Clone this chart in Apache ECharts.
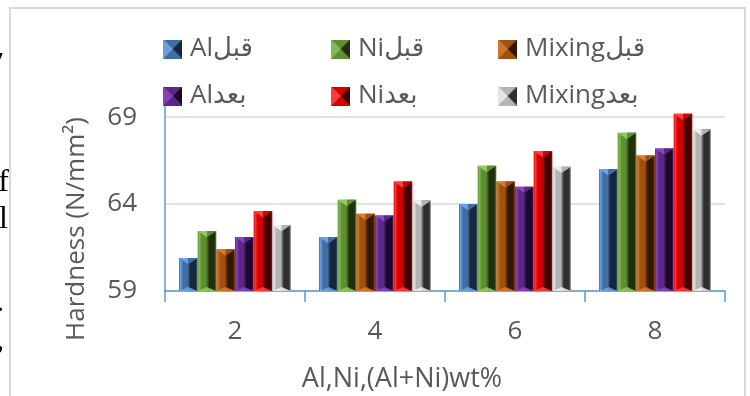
<!DOCTYPE html>
<html>
<head>
<meta charset="utf-8">
<script src="https://cdn.jsdelivr.net/npm/echarts@6/dist/echarts.min.js"></script>
<style>
  html, body { margin: 0; padding: 0; background: #ffffff; }
  #chart { width: 750px; height: 396px; }
</style>
</head>
<body>
<div id="chart"></div>
<script>
// Alloy additions (wt%) on the category axis
const categories = ['2', '4', '6', '8'];

// Series names: "before" (قبل) and "after" (بعد) for Al, Ni and mixed additions
const seriesNames = ['Alقبل', 'Niقبل', 'Mixingقبل', 'Alبعد', 'Niبعد', 'Mixingبعد'];

// Hardness values (N/mm²)
const alBefore  = [60.9, 62.1, 64.0, 66.0];
const niBefore  = [62.45, 64.25, 66.2, 68.1];
const mixBefore = [61.4, 63.45, 65.3, 66.8];
const alAfter   = [62.1, 63.35, 65.0, 67.2];
const niAfter   = [63.6, 65.3, 67.05, 69.2];
const mixAfter  = [62.8, 64.2, 66.15, 68.3];

// Value-axis tick labels
const yTicks = [59, 64, 69];

const allValues = [alBefore, niBefore, mixBefore, alAfter, niAfter, mixAfter];

// Bevel shading per series: [highlight, face, shadow, cap]
const shades = [
  ['#6b9fd9', '#3f6ea6', '#16263b', '#6aa3e3'],
  ['#86b955', '#5f8f31', '#1f300e', '#93c95b'],
  ['#cf7426', '#a0500f', '#321704', '#dc7b2a'],
  ['#8442b8', '#5c2786', '#1c0a2b', '#8a47c0'],
  ['#ff3a3a', '#d60000', '#450000', '#ff4040'],
  ['#e6e6e6', '#b4b4b4', '#2e2e2e', '#efefef']
];

const FONT = "'Open Sans', 'DejaVu Sans', sans-serif";
const SERIF = "'Liberation Serif', serif";
const TEXT = '#595959';
const AXIS = '#5b9bd5';
const Y_MIN = 59;
const Y_MAX = 69.7;

function pyramidIcon(p) {
  const s = 40;
  const cv = document.createElement('canvas');
  cv.width = cv.height = s;
  const g = cv.getContext('2d');
  const tri = (pts, col) => {
    g.beginPath();
    g.moveTo(pts[0][0], pts[0][1]);
    g.lineTo(pts[1][0], pts[1][1]);
    g.lineTo(pts[2][0], pts[2][1]);
    g.closePath();
    g.fillStyle = col;
    g.fill();
  };
  const m = s / 2;
  tri([[0, 0], [s, 0], [m, m]], p[1]);
  tri([[0, s], [s, s], [m, m]], p[1]);
  tri([[0, 0], [0, s], [m, m]], p[0]);
  tri([[s, 0], [s, s], [m, m]], p[2]);
  return 'image://' + cv.toDataURL();
}

function bevelRenderer(k, p) {
  return function (params, api) {
    const c = api.value(0);
    const v = api.value(1);
    const top = api.coord([c, v]);
    const base = api.coord([c, Y_MIN]);
    const band = api.size([1, 0])[0];
    const bw = band * 0.8 / 6;
    const x0 = top[0] - band * 0.4 + k * bw;
    const x1 = x0 + bw;
    const xm = (x0 + x1) / 2;
    const yT = top[1];
    const yB = base[1];
    const cap = bw * 0.34;
    const foot = bw * 0.22;
    return {
      type: 'group',
      children: [
        {
          type: 'rect',
          shape: { x: x0, y: yT, width: bw, height: yB - yT },
          style: {
            fill: {
              type: 'linear', x: 0, y: 0, x2: 1, y2: 0,
              colorStops: [
                { offset: 0, color: p[1] },
                { offset: 0.08, color: p[0] },
                { offset: 0.22, color: p[1] },
                { offset: 0.45, color: p[1] },
                { offset: 0.62, color: p[2] },
                { offset: 0.9, color: p[2] },
                { offset: 1, color: p[1] }
              ]
            }
          }
        },
        {
          type: 'polygon',
          shape: { points: [[x0, yT], [xm, yT], [xm, yT + cap]] },
          style: { fill: p[3] }
        },
        {
          type: 'polygon',
          shape: { points: [[xm, yT], [x1, yT], [xm, yT + cap]] },
          style: { fill: p[1] }
        },
        {
          type: 'polygon',
          shape: { points: [[x0, yB], [x1, yB], [xm, yB - foot]] },
          style: { fill: p[3], opacity: 0.85 }
        }
      ]
    };
  };
}

const series = seriesNames.map((name, k) => ({
  type: 'custom',
  name: name,
  renderItem: bevelRenderer(k, shades[k]),
  encode: { x: 0, y: 1 },
  data: allValues[k].map((v, i) => [i, v]),
  itemStyle: { color: shades[k][1] }
}));

// one legend block per entry, laid out as a 3 x 2 table
const legendCols = [163, 331, 498];
const legendRows = [48, 95];
const legends = seriesNames.map((name, k) => ({
  data: [{ name: name, icon: pyramidIcon(shades[k]) }],
  left: legendCols[k % 3],
  top: legendRows[Math.floor(k / 3)] - 12,
  padding: 0,
  itemWidth: 19,
  itemHeight: 19,
  itemGap: 0,
  selectedMode: false,
  textStyle: { fontFamily: FONT, fontSize: 26, color: TEXT, padding: [0, 0, 0, 3] }
}));

const chart = echarts.init(document.getElementById('chart'), null, { renderer: 'canvas' });

chart.setOption({
  backgroundColor: '#ffffff',
  animation: false,
  legend: legends,
  grid: { left: 165, right: 25, top: 105, bottom: 105, containLabel: false },
  xAxis: {
    type: 'category',
    data: categories,
    boundaryGap: true,
    axisLine: { show: true, lineStyle: { color: AXIS, width: 1.5 } },
    axisTick: { show: true, length: 11, lineStyle: { color: AXIS, width: 1.5 } },
    axisLabel: { fontFamily: FONT, fontSize: 26, color: TEXT, margin: 28 },
    splitLine: { show: false }
  },
  yAxis: {
    type: 'value',
    min: Y_MIN,
    max: Y_MAX,
    interval: 5,
    axisLine: { show: true, lineStyle: { color: AXIS, width: 1.5 } },
    axisTick: { show: false },
    axisLabel: {
      fontFamily: FONT, fontSize: 26, color: TEXT, margin: 28,
      formatter: v => (yTicks.indexOf(Math.round(v * 100) / 100) >= 0 ? String(v) : '')
    },
    splitLine: {
      show: true,
      showMaxLine: false,
      lineStyle: { color: '#d9d9d9', width: 1.5 }
    }
  },
  graphic: [
    {
      type: 'rect',
      shape: { x: 10, y: 8, width: 735, height: 400 },
      style: { fill: 'none', stroke: '#d9d9d9', lineWidth: 2 },
      silent: true,
      z: -1
    },
    {
      type: 'text',
      x: 77, y: 229,
      rotation: Math.PI / 2,
      style: {
        text: 'Hardness (N/mm²)',
        fontFamily: FONT, fontSize: 26, fill: TEXT,
        textAlign: 'center', textVerticalAlign: 'middle'
      }
    },
    {
      type: 'text',
      x: 402, y: 379,
      style: {
        text: 'Al,Ni,(Al+Ni)wt%',
        fontFamily: FONT, fontSize: 27, fill: TEXT,
        textAlign: 'center', textVerticalAlign: 'middle'
      }
    },
    // ends of the neighbouring page text, clipped at the left edge
    { type: 'text', x: 3, y: 63, style: { text: '7', fontFamily: SERIF, fontSize: 26, fontWeight: 'bold', fill: '#000', textAlign: 'right', textVerticalAlign: 'middle' } },
    { type: 'text', x: 9, y: 183, style: { text: 'f', fontFamily: SERIF, fontSize: 32, fill: '#000', textAlign: 'right', textVerticalAlign: 'middle' } },
    { type: 'text', x: 8, y: 220, style: { text: 'l', fontFamily: SERIF, fontSize: 32, fill: '#000', textAlign: 'right', textVerticalAlign: 'middle' } },
    { type: 'text', x: 4, y: 303, style: { text: '.', fontFamily: SERIF, fontSize: 30, fill: '#000', textAlign: 'right', textVerticalAlign: 'middle' } },
    { type: 'text', x: 4, y: 341, style: { text: ',', fontFamily: SERIF, fontSize: 30, fill: '#000', textAlign: 'right', textVerticalAlign: 'middle' } }
  ],
  series: series
});
</script>
</body>
</html>
